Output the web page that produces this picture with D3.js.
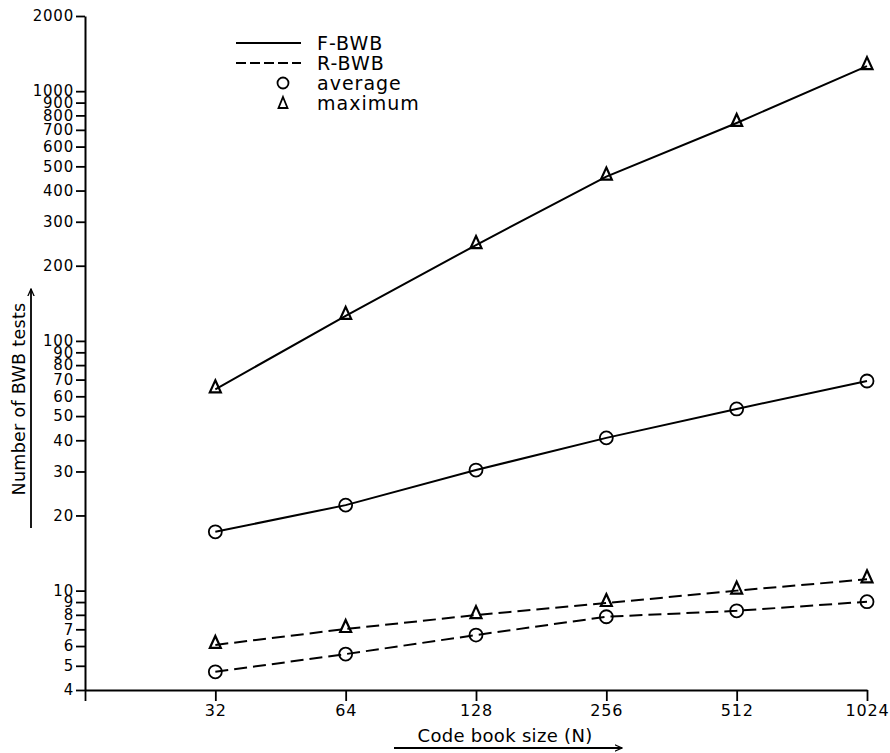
<!DOCTYPE html>
<html>
<head>
<meta charset="utf-8">
<script src="https://cdn.jsdelivr.net/npm/d3@7"></script>
<style>
  html, body { margin: 0; padding: 0; background: #fff; }
  svg { display: block; }
  text { font-family: "DejaVu Sans", sans-serif; fill: #000; }
</style>
</head>
<body>
<svg id="chart" width="890" height="753"></svg>
<script>
// ---- data ----
const codeBookSizes = [32, 64, 128, 256, 512, 1024];
const fbwbAverage = [17.2, 22.0, 30.4, 40.9, 53.4, 69.1];
const fbwbMaximum = [64, 126, 242, 455, 746, 1260];
const rbwbAverage = [4.73, 5.57, 6.64, 7.86, 8.3, 9.03];
const rbwbMaximum = [6.06, 7.02, 7.98, 8.92, 10.0, 11.1];
const yTickValues = [4, 5, 6, 7, 8, 9, 10, 20, 30, 40, 50, 60, 70, 80, 90, 100,
                     200, 300, 400, 500, 600, 700, 800, 900, 1000, 2000];
const xTickValues = [16, 32, 64, 128, 256, 512, 1024];
const legendItems = ["F-BWB", "R-BWB", "average", "maximum"];
const xTitle = "Code book size (N)";
const yTitle = "Number of BWB tests";

const svg = d3.select("#chart");

const x = d3.scaleLog().base(2).domain([16, 1024]).range([85, 867]);
const y = d3.scaleLog().domain([4, 2000]).range([690, 16]);

// ---- axes ----
const yAxis = d3.axisLeft(y)
  .tickValues(yTickValues)
  .tickFormat(d3.format("d"))
  .tickSize(9).tickSizeOuter(0).tickPadding(2);
const gy = svg.append("g").attr("transform", `translate(${x(16)},0)`).call(yAxis);
gy.selectAll("text").style("font-size", "15px").style("letter-spacing", "0.8px");
gy.select(".domain").attr("stroke-width", 2);
gy.selectAll(".tick line").attr("stroke-width", 1.8);

const xAxis = d3.axisBottom(x)
  .tickValues(xTickValues)
  .tickFormat(d => d === 16 ? "" : String(d))
  .tickSize(11).tickSizeOuter(0).tickPadding(4);
const gx = svg.append("g").attr("transform", `translate(0,${y(4)})`).call(xAxis);
gx.selectAll("text").style("font-size", "16px").style("letter-spacing", "0.8px");
gx.select(".domain").attr("stroke-width", 2);
gx.selectAll(".tick line").attr("stroke-width", 1.8);

// ---- lines ----
const line = d3.line().x(d => x(d[0])).y(d => y(d[1]));
const zip = vals => codeBookSizes.map((s, i) => [s, vals[i]]);

const series = [
  { vals: fbwbMaximum, dash: null, marker: "tri" },
  { vals: fbwbAverage, dash: null, marker: "circle" },
  { vals: rbwbMaximum, dash: "13,6", marker: "tri" },
  { vals: rbwbAverage, dash: "13,6", marker: "circle" }
];

const triPath = "M0,-9 L5.5,3 L-5.5,3 Z";

series.forEach(s => {
  svg.append("path")
    .attr("d", line(zip(s.vals)))
    .attr("fill", "none")
    .attr("stroke", "#000")
    .attr("stroke-width", 2)
    .attr("stroke-dasharray", s.dash);
  const pts = zip(s.vals);
  if (s.marker === "circle") {
    svg.selectAll(null).data(pts).enter().append("circle")
      .attr("cx", d => x(d[0])).attr("cy", d => y(d[1]))
      .attr("r", 6.5).attr("fill", "none")
      .attr("stroke", "#000").attr("stroke-width", 1.8);
  } else {
    svg.selectAll(null).data(pts).enter().append("path")
      .attr("d", triPath)
      .attr("transform", d => `translate(${x(d[0])},${y(d[1])})`)
      .attr("fill", "none").attr("stroke", "#000").attr("stroke-width", 2.2);
  }
});

// ---- legend ----
const lg = svg.append("g");
const lgX0 = 236, lgX1 = 301, lgMark = 283, lgText = 317;
const lgY = [43, 63, 83, 103];
lg.append("line").attr("x1", lgX0).attr("x2", lgX1).attr("y1", lgY[0]).attr("y2", lgY[0])
  .attr("stroke", "#000").attr("stroke-width", 2);
lg.append("line").attr("x1", lgX0).attr("x2", lgX1).attr("y1", lgY[1]).attr("y2", lgY[1])
  .attr("stroke", "#000").attr("stroke-width", 2).attr("stroke-dasharray", "10,4");
lg.append("circle").attr("cx", lgMark).attr("cy", lgY[2]).attr("r", 5.5)
  .attr("fill", "none").attr("stroke", "#000").attr("stroke-width", 1.8);
lg.append("path").attr("d", "M0,-6 L4.5,5 L-4.5,5 Z")
  .attr("transform", `translate(${lgMark},${lgY[3]})`)
  .attr("fill", "none").attr("stroke", "#000").attr("stroke-width", 1.8);
legendItems.forEach((t, i) => {
  lg.append("text").attr("x", lgText).attr("y", lgY[i] + 6.5)
    .style("font-size", "19px").style("letter-spacing", "1px").text(t);
});

// ---- axis titles with arrows ----
svg.append("defs").append("marker")
  .attr("id", "arrow").attr("viewBox", "0 0 10 10")
  .attr("refX", 9).attr("refY", 5)
  .attr("markerWidth", 8).attr("markerHeight", 8)
  .attr("markerUnits", "userSpaceOnUse")
  .attr("orient", "auto")
  .append("path").attr("d", "M0,1 L9,5 L0,9").attr("fill", "none")
  .attr("stroke", "#000").attr("stroke-width", 1.6);

svg.append("text")
  .attr("transform", "translate(25,399) rotate(-90)")
  .attr("text-anchor", "middle")
  .style("font-size", "17.5px")
  .style("letter-spacing", "0.3px")
  .text(yTitle);
svg.append("line").attr("x1", 31).attr("x2", 31).attr("y1", 528).attr("y2", 289)
  .attr("stroke", "#000").attr("stroke-width", 1.8).attr("marker-end", "url(#arrow)");

svg.append("text")
  .attr("x", 505).attr("y", 742)
  .attr("text-anchor", "middle")
  .style("font-size", "18px")
  .style("letter-spacing", "0.3px")
  .text(xTitle);
svg.append("line").attr("x1", 394).attr("x2", 622).attr("y1", 748).attr("y2", 748)
  .attr("stroke", "#000").attr("stroke-width", 1.8).attr("marker-end", "url(#arrow)");
</script>
</body>
</html>
